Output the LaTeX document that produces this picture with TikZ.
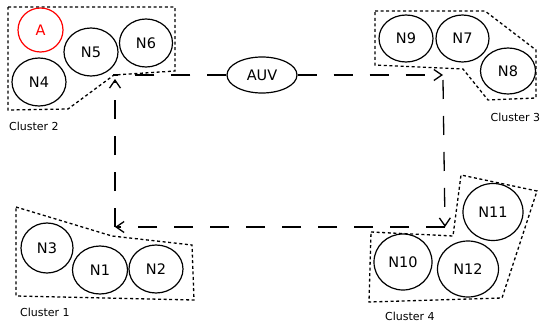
\documentclass[tikz,border=0pt]{standalone}
\usepackage{fontspec}
\setmainfont{DejaVu Sans}
\usetikzlibrary{shapes.geometric,arrows.meta}
\tikzset{
  sn/.style={ellipse,draw,line width=1.2pt,inner sep=0pt,font=\fontsize{14.5}{17}\selectfont},
  clusterline/.style={line width=1.3pt,dash pattern=on 3pt off 2.6pt,line join=miter},
  flow/.style={line width=1.3pt,dash pattern=on 19pt off 17pt},
  tip/.style={-{Straight Barb[length=8pt,width=11pt,line width=1.3pt]}},
  clab/.style={anchor=base west,inner sep=0pt,font=\fontsize{11}{13}\selectfont}
}
\begin{document}
\begin{tikzpicture}[x=1pt,y=-1pt]
\useasboundingbox (0,0) rectangle (541,324);
% clusters
\draw[clusterline] (8,7) -- (175,7) -- (175,71) -- (114,75) -- (68,109) -- (8,110) -- cycle;
\draw[clusterline] (375,11) -- (485,11) -- (536,50) -- (536,98) -- (488,100) -- (463,69) -- (375,65) -- cycle;
\draw[clusterline] (16,207) -- (112,236) -- (192,245) -- (194,300) -- (16,296) -- cycle;
\draw[clusterline] (371,232) -- (453,236) -- (461,175) -- (537,191) -- (502,298) -- (369,302) -- cycle;
% nodes
\node[sn,draw=red,text=red,minimum width=45pt,minimum height=44pt] (A) at (40.5,30) {A};
\node[sn,minimum width=54pt,minimum height=48pt] (N5) at (91,52) {N5};
\node[sn,minimum width=53pt,minimum height=48pt] (N6) at (146,43) {N6};
\node[sn,minimum width=54pt,minimum height=48pt] (N4) at (39,82) {N4};
\node[sn,minimum width=54pt,minimum height=47pt] (N9) at (406,38.5) {N9};
\node[sn,minimum width=53pt,minimum height=47pt] (N7) at (462.5,38.5) {N7};
\node[sn,minimum width=55pt,minimum height=46pt] (N8) at (508,71) {N8};
\node[sn,minimum width=52pt,minimum height=50pt] (N3) at (47,248) {N3};
\node[sn,minimum width=55pt,minimum height=48pt] (N1) at (100,270) {N1};
\node[sn,minimum width=54pt,minimum height=48pt] (N2) at (156,269) {N2};
\node[sn,minimum width=60pt,minimum height=57pt] (N11) at (493,212) {N11};
\node[sn,minimum width=58pt,minimum height=56pt] (N10) at (403,262) {N10};
\node[sn,minimum width=61pt,minimum height=56pt] (N12) at (468,269) {N12};
\node[sn,minimum width=70pt,minimum height=36pt] (AUV) at (262,75) {AUV};
% labels
\node[clab] (L2) at (9,130) {Cluster 2};
\node[clab] (L3) at (490.5,121) {Cluster 3};
\node[clab] (L1) at (20,316) {Cluster 1};
\node[clab] (L4) at (385,320) {Cluster 4};
% route
\coordinate (c1) at (443,75);
\coordinate (c1b) at (443,80);
\coordinate (c2) at (445,227);
\coordinate (c3) at (115,227);
\coordinate (c4) at (115,79);
\coordinate (c4b) at (113,75);
\draw[flow,tip] (AUV.east) -- (c1);
\draw[flow,tip] (c1b) -- (c2);
\draw[flow,tip] (c2) -- (c3);
\draw[flow,tip] (c3) -- (c4);
\draw[flow] (AUV.west) -- (c4b);
\end{tikzpicture}
\end{document}
